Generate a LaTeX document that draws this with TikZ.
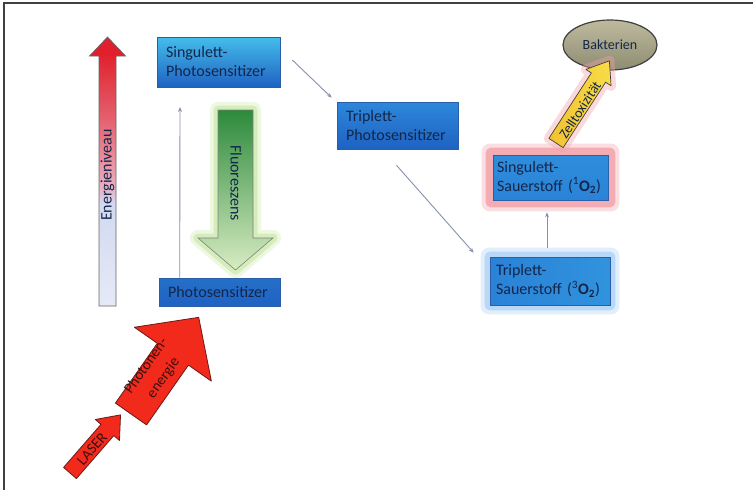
\documentclass[tikz,border=0pt]{standalone}
\usepackage{fontspec}
\setmainfont{Carlito}
\usetikzlibrary{arrows.meta,calc,shapes.geometric,backgrounds}
\definecolor{framegray}{HTML}{404040}
\definecolor{navytext}{HTML}{13264A}
\definecolor{boxedge}{HTML}{2A5FA8}
\definecolor{cyanbox}{HTML}{44BDEB}
\definecolor{bluebox}{HTML}{1F62C2}
\definecolor{midblue}{HTML}{2C88DA}
\definecolor{connc}{HTML}{8492AC}
\definecolor{enlav}{HTML}{E6EAF7}
\definecolor{enlav2}{HTML}{D2D9F0}
\definecolor{enpink}{HTML}{E9AFC0}
\definecolor{enred1}{HTML}{E4606E}
\definecolor{enred}{HTML}{E0202C}
\definecolor{grdark}{HTML}{2C8A3C}
\definecolor{grmid}{HTML}{98CC84}
\definecolor{grlight}{HTML}{D8ECC2}
\definecolor{grglow}{HTML}{B8E08C}
\definecolor{laserred}{HTML}{F22A1C}
\definecolor{laseredge}{HTML}{6A1A1A}
\definecolor{arrowtext}{HTML}{3A1010}
\definecolor{pinkglow}{HTML}{F2A0A8}
\definecolor{blueglow}{HTML}{A8CEF4}
\definecolor{gold}{HTML}{F2C22E}
\definecolor{goldlight}{HTML}{F8DC48}
\definecolor{baktop}{HTML}{BEBA9E}
\definecolor{bakbot}{HTML}{8E8C72}
\pgfdeclareverticalshading{energyshade}{100bp}{color(0bp)=(enlav); color(25bp)=(enlav); color(44bp)=(enlav2); color(47bp)=(enpink); color(60bp)=(enred1); color(72bp)=(enred); color(100bp)=(enred)}
\tikzset{
  box/.style={draw=boxedge, line width=0.6pt, text=navytext, align=left,
    inner xsep=9pt, inner ysep=0pt, text width=#1,
    font=\fontsize{16}{19}\selectfont},
  conn/.style={draw=connc, line width=0.9pt, -{Stealth[length=5pt,width=4pt]}},
  barrow/.style n args={4}{insert path={(0,-#2) -- ({#1-#4},-#2) -- ({#1-#4},-#3) -- (#1,0) -- ({#1-#4},#3) -- ({#1-#4},#2) -- (0,#2) -- cycle}},
  redarrow/.style={fill=laserred, draw=laseredge, line width=0.8pt, line join=round},
  lbl/.style={text=navytext, font=\fontsize{16}{19}\selectfont, inner sep=0pt}
}
\begin{document}
\begin{tikzpicture}[x=1pt,y=-1pt]
\useasboundingbox (0,0) rectangle (753,490);
\draw[framegray, line width=1.4pt] (4,490) -- (4,3) -- (753,3);

% Energieniveau arrow
\shade[shading=energyshade] (99,306) -- (99,56) -- (89.5,56) -- (107.5,37) -- (125.5,56) -- (116,56) -- (116,306) -- cycle;
\draw[draw=framegray!80, line width=0.7pt] (99,306) -- (99,56) -- (89.5,56) -- (107.5,37) -- (125.5,56) -- (116,56) -- (116,306) -- cycle;
\node[lbl, rotate=90] (en) at (107.5,175) {Energieniveau};

% Fluoreszens arrow with glow
\draw[grglow, line width=16pt, opacity=0.25, line join=round] (218,110) -- (253,110) -- (253,238) -- (273,238) -- (235.5,270) -- (198,238) -- (218,238) -- cycle;
\draw[grglow, line width=9pt, opacity=0.45, line join=round] (218,110) -- (253,110) -- (253,238) -- (273,238) -- (235.5,270) -- (198,238) -- (218,238) -- cycle;
\shade[top color=grdark, middle color=grmid, bottom color=grlight] (218,110) -- (253,110) -- (253,238) -- (273,238) -- (235.5,270) -- (198,238) -- (218,238) -- cycle;
\draw[gray, line width=0.6pt] (218,110) -- (253,110) -- (253,238) -- (273,238) -- (235.5,270) -- (198,238) -- (218,238) -- cycle;
\node[lbl, rotate=-90] (fl) at (236,183) {Fluoreszens};

% boxes
\node[box=105pt, minimum height=50pt, top color=cyanbox, bottom color=bluebox] (sps) at (218.5,62) {Singulett-\\Photosensitizer};
\node[box=103pt, minimum height=28pt, top color=bluebox!85!cyanbox, bottom color=bluebox] (ps) at (219.5,292) {Photosensitizer};
\node[box=103pt, minimum height=47pt, top color=midblue, middle color=cyanbox, bottom color=bluebox] (tps) at (397.5,125.5) {Triplett-\\Photosensitizer};
\node[box=107pt, inner xsep=4pt, minimum height=45pt, top color=midblue!90!cyanbox, bottom color=midblue!85!bluebox] (sso) at (550.5,177.5) {Singulett-\\\mbox{Sauerstoff (\textsuperscript{1}\textbf{O\textsubscript{2}})}};
\node[box=108pt, inner xsep=6pt, minimum height=48pt, left color=midblue!85!bluebox, right color=midblue!80!cyanbox] (tso) at (550,281) {Triplett-\\\mbox{Sauerstoff (\textsuperscript{3}\textbf{O\textsubscript{2}})}};

\begin{scope}[on background layer]
  \fill[pinkglow, opacity=0.35, rounded corners=8pt] ($(sso.south west)+(-11,11)$) rectangle ($(sso.north east)+(11,-11)$);
  \fill[pinkglow, opacity=0.8, rounded corners=5pt] ($(sso.south west)+(-7,7)$) rectangle ($(sso.north east)+(7,-7)$);
  \fill[blueglow, opacity=0.35, rounded corners=8pt] ($(tso.south west)+(-9,9)$) rectangle ($(tso.north east)+(9,-9)$);
  \fill[blueglow, opacity=0.7, rounded corners=5pt] ($(tso.south west)+(-5,5)$) rectangle ($(tso.north east)+(5,-5)$);
\end{scope}

% Bakterien
\node[ellipse, draw=framegray, line width=1.2pt, top color=baktop, bottom color=bakbot, minimum width=94pt, minimum height=50pt, inner sep=0pt, text=navytext, font=\fontsize{14}{16}\selectfont] (bak) at (610,45) {Bakterien};

% Zelltoxizitaet arrow
\begin{scope}[shift={(556,143)}, rotate=57]
  \draw[pinkglow, line width=10pt, opacity=0.4, line join=round, barrow={98}{8.5}{15}{20}];
  \shade[left color=gold, right color=goldlight, barrow={98}{8.5}{15}{20}];
  \draw[framegray, line width=0.7pt, line join=round, barrow={98}{8.5}{15}{20}];
\end{scope}
\node[lbl, rotate=57, font=\fontsize{14}{16}\selectfont] (zt) at (580,110) {Zelltoxizität};

% Photonenenergie arrow
\begin{scope}[shift={(131,414)}, rotate=55]
  \draw[redarrow, barrow={118}{19}{47}{45}];
\end{scope}
\node[lbl, text=arrowtext, rotate=55, align=center, font=\fontsize{15}{21}\selectfont] (pe) at (155,372) {Photonen-\\energie};

% LASER arrow
\begin{scope}[shift={(70,473)}, rotate=49]
  \draw[redarrow, barrow={77}{8.5}{16}{20}];
\end{scope}
\node[lbl, text=arrowtext, rotate=49, font=\fontsize{15}{17}\selectfont] (la) at (92,449) {LASER};

% connectors
\coordinate (e1) at (180,107);
\draw[conn] ($(ps.north west)+(21,0)$) -- (e1);
\draw[conn] ($(sps.east)+(12,-2)$) -- ($(tps.north west)+(-5,-4)$);
\draw[conn] ($(tps.south)+(-1,16)$) -- ($(tso.north west)+(-16,-4)$);
\draw[conn] ($(tso.north)+(-3,-9)$) -- ($(sso.south)+(-3.5,12)$);
\end{tikzpicture}
\end{document}
